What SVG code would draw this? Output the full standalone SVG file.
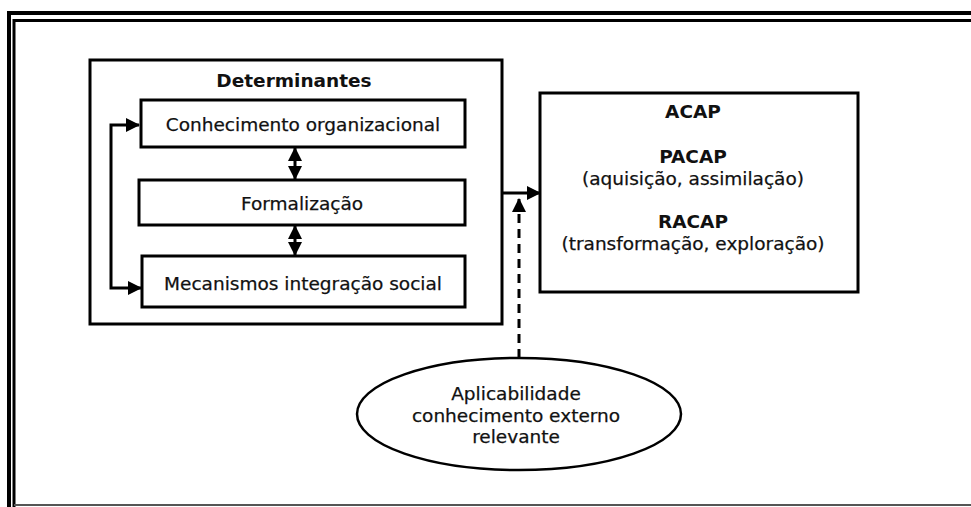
<svg xmlns="http://www.w3.org/2000/svg" width="971" height="507" viewBox="0 0 971 507">
  <style>
    .box { fill: #ffffff; stroke: #000000; stroke-width: 3; }
    .ell { fill: #ffffff; stroke: #000000; stroke-width: 2.5; }
    .lbl { font-family: "DejaVu Sans", "Noto Sans", sans-serif; font-size: 18.5px; fill: #111111; stroke: #111111; stroke-width: 0.25; text-anchor: middle; }
    .bold { font-weight: bold; stroke-width: 0; }
    .wire { fill: none; stroke: #000000; stroke-width: 3; }
    .dash { fill: none; stroke: #000000; stroke-width: 3; stroke-dasharray: 9 6; }
  </style>
  <defs>
    <marker id="head" markerUnits="userSpaceOnUse" markerWidth="14" markerHeight="14" refX="13" refY="7" orient="auto-start-reverse">
      <path d="M0,0 L14,7 L0,14 z" fill="#000000"/>
    </marker>
  </defs>

  <rect width="971" height="507" fill="#ffffff"/>

  <!-- double page frame -->
  <g id="frame">
    <path d="M9,507 V13 H971" fill="none" stroke="#000000" stroke-width="4"/>
    <path d="M14,507 V20.5 H971" fill="none" stroke="#000000" stroke-width="3"/>
    <line x1="14" y1="505" x2="971" y2="505" stroke="#555555" stroke-width="2"/>
  </g>

  <g id="determinantes">
    <rect class="box" x="90" y="60" width="412" height="264"/>
    <text class="lbl bold" x="294" y="87">Determinantes</text>
  </g>

  <g id="conhecimento">
    <rect class="box" x="141" y="100" width="324" height="47"/>
    <text class="lbl" x="303" y="131">Conhecimento organizacional</text>
  </g>

  <g id="formalizacao">
    <rect class="box" x="139" y="180" width="326" height="45"/>
    <text class="lbl" x="302" y="210">Formalização</text>
  </g>

  <g id="mecanismos">
    <rect class="box" x="142" y="256" width="323" height="51"/>
    <text class="lbl" x="303" y="290">Mecanismos integração social</text>
  </g>

  <g id="acap">
    <rect class="box" x="540" y="93" width="318" height="199"/>
    <text class="lbl bold" x="693" y="118">ACAP</text>
    <text class="lbl bold" x="693" y="163">PACAP</text>
    <text class="lbl" x="693" y="185">(aquisição, assimilação)</text>
    <text class="lbl bold" x="693" y="228">RACAP</text>
    <text class="lbl" x="693" y="250">(transformação, exploração)</text>
  </g>

  <g id="aplicabilidade">
    <ellipse class="ell" cx="519" cy="414" rx="162" ry="56"/>
    <text class="lbl" x="516" y="400">Aplicabilidade</text>
    <text class="lbl" x="516" y="422">conhecimento externo</text>
    <text class="lbl" x="516" y="443">relevante</text>
  </g>

  <g id="connectors">
    <!-- mutual links between determinants -->
    <line class="wire" x1="295" y1="148" x2="295" y2="179" marker-start="url(#head)" marker-end="url(#head)"/>
    <line class="wire" x1="295" y1="226" x2="295" y2="255" marker-start="url(#head)" marker-end="url(#head)"/>
    <!-- loop linking the first and last determinant -->
    <path class="wire" d="M139,125 H111 V288 H141" marker-start="url(#head)" marker-end="url(#head)"/>
    <!-- determinants to ACAP -->
    <line class="wire" x1="502" y1="193" x2="540" y2="193" marker-end="url(#head)"/>
    <!-- external knowledge moderating the link -->
    <line class="dash" x1="519" y1="358" x2="519" y2="199" marker-end="url(#head)"/>
  </g>
</svg>
